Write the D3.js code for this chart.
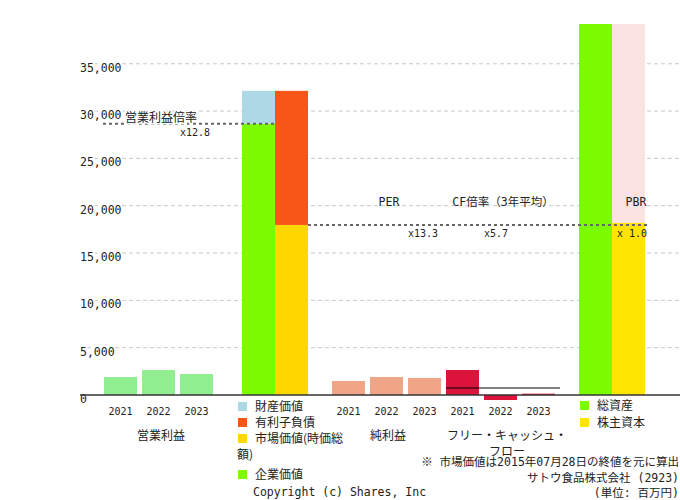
<!DOCTYPE html>
<html>
<head>
<meta charset="utf-8">
<script src="https://cdn.jsdelivr.net/npm/d3@7"></script>
<style>
  body { margin: 0; background: #fff; }
  text { font-family: "DejaVu Sans Mono", "Noto Sans CJK JP", monospace; fill: #222; }
  .jp { font-family: "Noto Sans CJK JP", sans-serif; }
</style>
</head>
<body>
<div></div>
<script>
var width = 680, height = 500;

// values (百万円)
var years = ["2021", "2022", "2023"];
var opIncome = [1900, 2640, 2220];
var netIncome = [1480, 1900, 1800];
var freeCF = [2640, -530, 140];
var propertyValue = 3485, interestDebt = 14165, marketCap = 17970, enterpriseValue = 28650;
var totalAssets = 39200, equity = 18210;
var yTicks = [0, 5000, 10000, 15000, 20000, 25000, 30000, 35000];
var ratioNames = ["営業利益倍率", "PER", "CF倍率（3年平均）", "PBR"];
var ratioValues = ["x12.8", "x13.3", "x5.7", "x 1.0"];
var evLegend = ["財産価値", "有利子負債", "市場価値(時価総", "企業価値"];
var evColors = ["#add8e6", "#f75617", "#ffd700", "#7cfc00"];
var pbrLegend = ["総資産", "株主資本"];
var pbrColors = ["#7cfc00", "#ffe400"];
var notes = ["※ 市場価値は2015年07月28日の終値を元に算出", "サトウ食品株式会社 (2923)", "(単位: 百万円)"];

var svg = d3.select("div").append("svg")
    .attr("width", width)
    .attr("height", height);

var y = d3.scaleLinear()
    .domain([0, totalAssets])
    .range([395, 24]);

// bar slots: width 33, step 38, gap 24 between groups
var bw = 33;
var x0 = 104;
var opX = d3.range(3).map(function(i) { return x0 + i * 38; });
var evX = [opX[2] + bw + 29, opX[2] + bw + 29 + bw];
var niX = d3.range(3).map(function(i) { return evX[1] + bw + 24 + i * 38; });
var cfX = d3.range(3).map(function(i) { return niX[2] + 38 + i * 38; });
var pbX = [cfX[2] + bw + 24, cfX[2] + bw + 24 + bw];

// gridlines
svg.append("g").selectAll("line")
    .data(yTicks.slice(1))
  .enter().append("line")
    .attr("x1", 80).attr("x2", 680)
    .attr("y1", function(d) { return y(d); })
    .attr("y2", function(d) { return y(d); })
    .style("stroke", "#c8c8c8")
    .style("stroke-dasharray", "4,3");

svg.append("g").selectAll("text")
    .data(yTicks)
  .enter().append("text")
    .attr("x", 80)
    .attr("y", function(d) { return y(d) + 8; })
    .attr("font-size", "11.5px")
    .style("stroke", "#fff").style("stroke-width", 4).style("paint-order", "stroke")
    .text(function(d) { return d3.format(",")(d); });

function bars(xs, vals, color) {
  svg.append("g").selectAll("rect")
      .data(vals)
    .enter().append("rect")
      .attr("x", function(d, i) { return xs[i]; })
      .attr("width", bw)
      .attr("y", function(d) { return y(Math.max(0, d)); })
      .attr("height", function(d) { return Math.abs(y(d) - y(0)); })
      .style("fill", color);
}
function stack(xp, lo, hi, color) {
  svg.append("rect")
      .attr("x", xp).attr("width", bw)
      .attr("y", y(hi)).attr("height", y(lo) - y(hi))
      .style("fill", color);
}

bars(opX, opIncome, "#90ee90");
bars(niX, netIncome, "#f0a586");
bars(cfX, freeCF, "#dc143c");

stack(evX[0], 0, enterpriseValue, evColors[3]);
stack(evX[0], enterpriseValue, enterpriseValue + propertyValue, evColors[0]);
stack(evX[1], 0, marketCap, evColors[2]);
stack(evX[1], marketCap, marketCap + interestDebt, evColors[1]);

stack(pbX[0], 0, totalAssets, pbrColors[0]);
stack(pbX[1], 0, equity, pbrColors[1]);
stack(pbX[1], equity, totalAssets, "#fae3e0");

// FCF 3-year average
var cfAvg = d3.mean(freeCF);
svg.append("line")
    .attr("x1", cfX[0]).attr("x2", cfX[2] + bw + 5)
    .attr("y1", y(cfAvg)).attr("y2", y(cfAvg))
    .style("stroke", "#000").style("stroke-opacity", 0.5).style("stroke-width", 2);

// zero axis
svg.append("line")
    .attr("x1", 80).attr("x2", 680)
    .attr("y1", y(0)).attr("y2", y(0))
    .style("stroke", "#333").style("stroke-width", 1.5);

// ratio lines
svg.append("line")
    .attr("x1", 103).attr("x2", evX[1])
    .attr("y1", y(enterpriseValue)).attr("y2", y(enterpriseValue))
    .style("stroke", "#666").style("stroke-width", 2).style("stroke-dasharray", "3,3");
svg.append("line")
    .attr("x1", evX[1] + bw).attr("x2", pbX[1] + bw + 2)
    .attr("y1", y(marketCap)).attr("y2", y(marketCap))
    .style("stroke", "#666").style("stroke-width", 2).style("stroke-dasharray", "3,3");

svg.append("text").attr("class", "jp")
    .attr("x", 125).attr("y", y(enterpriseValue) - 2)
    .attr("font-size", "12px")
    .style("stroke", "#fff").style("stroke-width", 3).style("paint-order", "stroke")
    .text(ratioNames[0]);
svg.append("text")
    .attr("x", 210).attr("y", y(enterpriseValue) + 12)
    .attr("text-anchor", "end").attr("font-size", "10px")
    .text(ratioValues[0]);

var ratioCx = [389, 503, 636];
var valueCx = [423, 496, 632];
ratioNames.slice(1).forEach(function(n, i) {
  svg.append("text")
      .attr("x", ratioCx[i]).attr("y", y(marketCap) - 19)
      .attr("text-anchor", "middle").attr("font-size", "11.5px")
      .text(n);
  svg.append("text")
      .attr("x", valueCx[i]).attr("y", y(marketCap) + 12)
      .attr("text-anchor", "middle").attr("font-size", "10px")
      .text(ratioValues[i + 1]);
});

// year labels
[opX, niX, cfX].forEach(function(xs) {
  svg.append("g").selectAll("text")
      .data(years)
    .enter().append("text")
      .attr("x", function(d, i) { return xs[i] + bw / 2; })
      .attr("y", 415)
      .attr("text-anchor", "middle").attr("font-size", "10px")
      .text(function(d) { return d; });
});

// group labels
function groupLabel(cx, lines) {
  lines.forEach(function(t, i) {
    svg.append("text").attr("class", "jp")
        .attr("x", cx).attr("y", 440 + i * 16)
        .attr("text-anchor", "middle").attr("font-size", "12px")
        .text(t);
  });
}
groupLabel(161, ["営業利益"]);
groupLabel(388, ["純利益"]);
groupLabel(507, ["フリー・キャッシュ・", "フロー"]);

// legends
var evY = [407, 423, 439, 475];
evLegend.forEach(function(t, i) {
  svg.append("rect").attr("x", 238).attr("y", evY[i] - 5).attr("width", 9).attr("height", 9)
      .style("fill", evColors[i]);
  svg.append("text").attr("class", "jp")
      .attr("x", 255).attr("y", evY[i] + 4).attr("font-size", "12px").text(t);
});
svg.append("text").attr("class", "jp")
    .attr("x", 237).attr("y", 459).attr("font-size", "12px").text("額)");

pbrLegend.forEach(function(t, i) {
  svg.append("rect").attr("x", 580).attr("y", 401 + i * 17).attr("width", 9).attr("height", 9)
      .style("fill", pbrColors[i]);
  svg.append("text").attr("class", "jp")
      .attr("x", 597).attr("y", 410 + i * 17).attr("font-size", "12px").text(t);
});

svg.append("text")
    .attr("x", 253).attr("y", 496).attr("font-size", "11.5px")
    .text("Copyright (c) Shares, Inc");

notes.forEach(function(t, i) {
  svg.append("text")
      .attr("x", 679).attr("y", 466 + i * 15.5)
      .attr("text-anchor", "end").attr("font-size", "11.5px")
      .text(t);
});
</script>
</body>
</html>
